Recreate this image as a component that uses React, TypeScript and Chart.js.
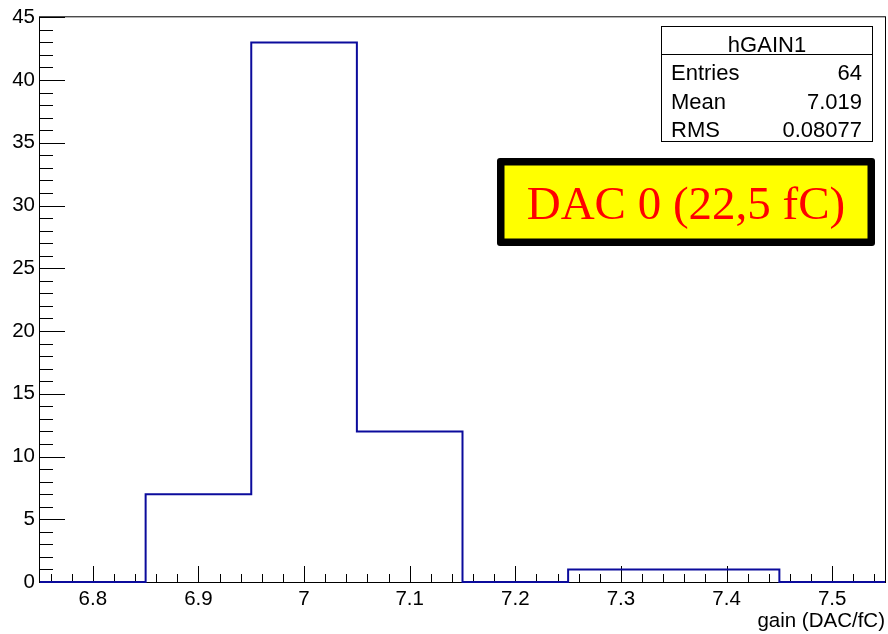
import React, { useEffect, useRef } from 'react';
import { Chart, registerables } from 'chart.js';

Chart.register(...registerables);

// ---- data ----
const binEdges = [6.75, 6.85, 6.95, 7.05, 7.15, 7.25, 7.35, 7.45, 7.55];
const binCounts = [0, 7, 43, 12, 0, 1, 1, 0];
const xTickValues = [6.8, 6.9, 7.0, 7.1, 7.2, 7.3, 7.4, 7.5];
const yTickValues = [0, 5, 10, 15, 20, 25, 30, 35, 40, 45];
const xMinorStep = 0.02;
const yMinorStep = 1;
const xAxisTitle = 'gain (DAC/fC)';
const statsTitle = 'hGAIN1';
const statsLabels = ['Entries', 'Mean', 'RMS'];
const statsValues = ['64', '7.019', '0.08077'];
const annotationText = 'DAC 0 (22,5 fC)';

const SANS = "'Liberation Sans', Arial, Helvetica, sans-serif";
const SERIF = "'Liberation Serif', 'Times New Roman', serif";
const LINE_COLOR = '#0b0b9c';

const rootDecor = {
  id: 'rootDecor',
  beforeDatasetsDraw(chart: any) {
    const { ctx, chartArea: a, scales } = chart;
    const x = scales.x;
    const y = scales.y;
    ctx.save();
    ctx.strokeStyle = '#000';
    ctx.lineWidth = 1;
    // frame
    ctx.strokeRect(a.left - 0.5, a.top - 0.5, a.right - a.left + 1, a.bottom - a.top + 1);
    // y ticks
    const yMin = y.min, yMax = y.max;
    ctx.beginPath();
    for (let k = Math.ceil(yMin / yMinorStep); k * yMinorStep <= yMax + 1e-9; k++) {
      const v = k * yMinorStep;
      const major = yTickValues.some((t) => Math.abs(t - v) < 1e-9);
      const py = Math.round(y.getPixelForValue(v)) + 0.5;
      const len = major ? 25 : 13;
      ctx.moveTo(a.left, py);
      ctx.lineTo(a.left + len, py);
    }
    // x ticks
    for (let k = Math.ceil(x.min / xMinorStep - 1e-9); k * xMinorStep <= x.max + 1e-9; k++) {
      const v = k * xMinorStep;
      const major = xTickValues.some((t) => Math.abs(t - v) < 1e-6);
      const px = Math.round(x.getPixelForValue(v)) + 0.5;
      const len = major ? 16 : 8;
      ctx.moveTo(px, a.bottom);
      ctx.lineTo(px, a.bottom - len);
    }
    ctx.stroke();
    ctx.restore();
  },
  afterDraw(chart: any) {
    const { ctx } = chart;
    ctx.save();
    // stats box
    const sx0 = 661.5, sx1 = 872.5, sy0 = 26.5, sy1 = 141.5, sep = 54.5;
    ctx.fillStyle = '#fff';
    ctx.fillRect(sx0, sy0, sx1 - sx0, sy1 - sy0);
    ctx.strokeStyle = '#000';
    ctx.lineWidth = 1;
    ctx.strokeRect(sx0, sy0, sx1 - sx0, sy1 - sy0);
    ctx.beginPath();
    ctx.moveTo(sx0, sep);
    ctx.lineTo(sx1, sep);
    ctx.stroke();
    ctx.fillStyle = '#000';
    ctx.font = `22px ${SANS}`;
    ctx.textBaseline = 'alphabetic';
    ctx.textAlign = 'center';
    ctx.fillText(statsTitle, (sx0 + sx1) / 2, 51.5);
    const rowBase = [80, 108.5, 137];
    statsLabels.forEach((lab, i) => {
      ctx.textAlign = 'left';
      ctx.fillText(lab, 671, rowBase[i]);
      ctx.textAlign = 'right';
      ctx.fillText(statsValues[i], 862, rowBase[i]);
    });

    // annotation box
    const bx0 = 497, bx1 = 875, by0 = 158, by1 = 246, bw = 7.5;
    ctx.fillStyle = '#000';
    ctx.beginPath();
    (ctx as any).roundRect ? (ctx as any).roundRect(bx0, by0, bx1 - bx0, by1 - by0, 3) : ctx.rect(bx0, by0, bx1 - bx0, by1 - by0);
    ctx.fill();
    ctx.fillStyle = '#ffff00';
    ctx.fillRect(bx0 + bw, by0 + bw, bx1 - bx0 - 2 * bw, by1 - by0 - 2 * bw);
    ctx.fillStyle = '#ff0000';
    ctx.font = `47px ${SERIF}`;
    ctx.textAlign = 'center';
    ctx.textBaseline = 'alphabetic';
    ctx.fillText(annotationText, (bx0 + bx1) / 2, 218.5);
    ctx.restore();
  },
};

export default function App() {
  const ref = useRef<HTMLCanvasElement | null>(null);

  useEffect(() => {
    document.body.style.margin = '0';
    const canvas = ref.current;
    if (!canvas) return;
    const points = binEdges.map((e, i) => ({ x: e, y: binCounts[Math.min(i, binCounts.length - 1)] }));
    const chart = new Chart(canvas, {
      type: 'line',
      data: {
        datasets: [
          {
            data: points,
            stepped: true,
            borderColor: LINE_COLOR,
            borderWidth: 2,
            pointRadius: 0,
            fill: false,
            clip: false as any,
          },
        ],
      },
      options: {
        animation: false,
        responsive: false,
        maintainAspectRatio: false,
        layout: { padding: { left: 0, right: 3, top: 15, bottom: 0 } },
        plugins: { legend: { display: false }, tooltip: { enabled: false } },
        scales: {
          x: {
            type: 'linear',
            min: binEdges[0],
            max: binEdges[binEdges.length - 1],
            afterBuildTicks: (s: any) => {
              s.ticks = xTickValues.map((v) => ({ value: v }));
            },
            afterFit: (s: any) => {
              s.height = 52;
            },
            grid: { display: false, drawTicks: false },
            border: { display: false },
            ticks: {
              autoSkip: false,
              maxRotation: 0,
              padding: 5,
              color: '#000',
              font: { family: SANS, size: 20.5 },
              callback: (v: any) => String(Math.round(Number(v) * 10) / 10),
            },
            title: {
              display: true,
              text: xAxisTitle,
              align: 'end',
              color: '#000',
              font: { family: SANS, size: 20.5 },
              padding: { top: 0, bottom: 0 },
            },
          },
          y: {
            type: 'linear',
            min: yTickValues[0],
            max: yTickValues[yTickValues.length - 1],
            afterBuildTicks: (s: any) => {
              s.ticks = yTickValues.map((v) => ({ value: v }));
            },
            afterFit: (s: any) => {
              s.width = 40;
            },
            grid: { display: false, drawTicks: false },
            border: { display: false },
            ticks: {
              autoSkip: false,
              padding: 5,
              color: '#000',
              font: { family: SANS, size: 20.5 },
            },
          },
        },
      },
      plugins: [rootDecor],
    });
    return () => chart.destroy();
  }, []);

  return (
    <div style={{ position: 'absolute', left: 0, top: 0, width: 888, height: 634, background: '#fff' }}>
      <canvas ref={ref} width={888} height={634} style={{ width: 888, height: 634, display: 'block' }} />
    </div>
  );
}
